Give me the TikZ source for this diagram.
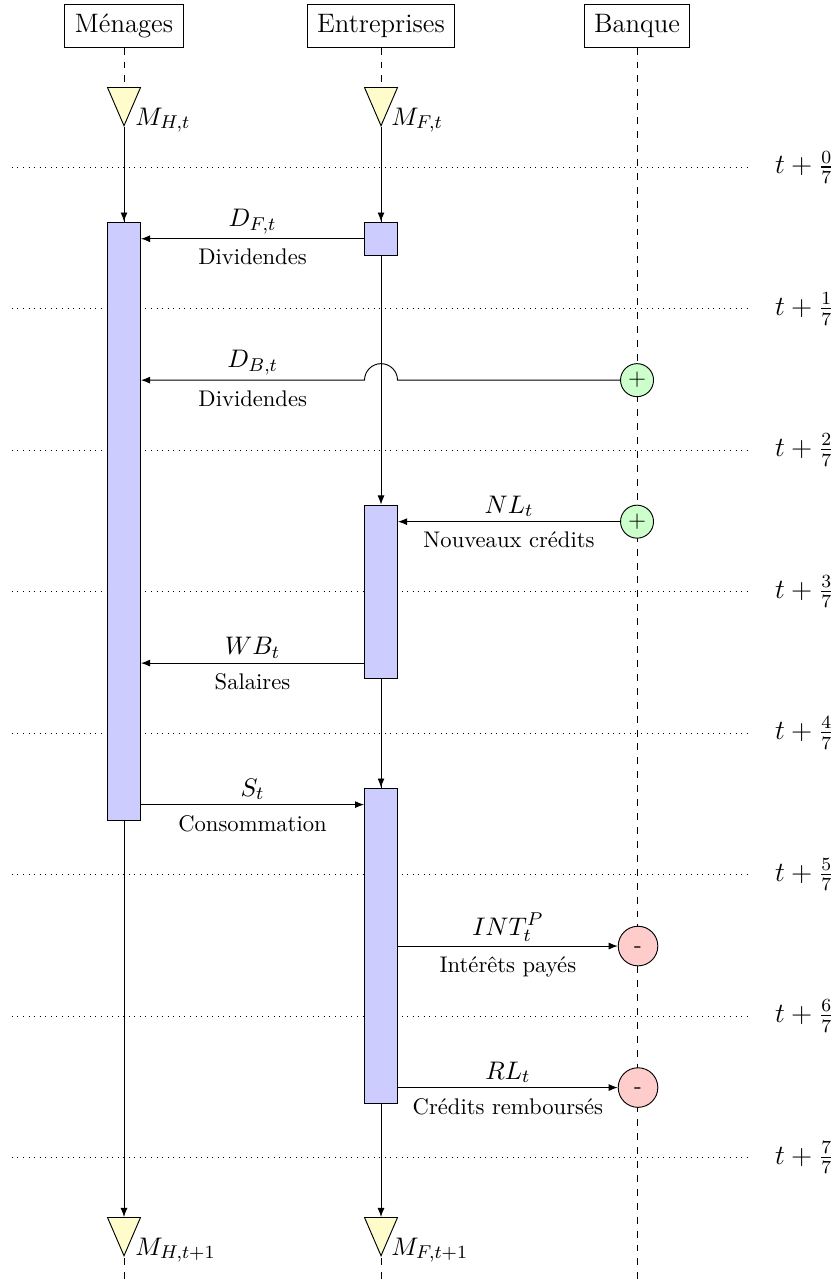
\documentclass[tikz,border=0pt]{standalone}
\usepackage{amsmath,amssymb}
\usetikzlibrary{arrows.meta,shapes.geometric}
\newcommand{\headfont}{\fontsize{11.5}{13.6}\selectfont}
\newcommand{\timefont}{\fontsize{11.7}{13.6}\selectfont}
\newcommand{\mathfont}{\fontsize{10.95}{13.6}\selectfont}
\newcommand{\capfont}{\fontsize{9.75}{12}\selectfont}
\tikzset{
	actor/.style={draw, font=\headfont, minimum height=0.64cm, minimum width=1.79cm},
	lifeline/.style={dashed},
	timeline/.style={dotted, shorten >=0.23cm},
	timelabel/.style={font=\timefont},
	block/.style={draw, fill=blue!20, minimum width=0.5cm, inner sep=0},
	stock/.style={draw, fill=yellow!20, isosceles triangle, isosceles triangle stretches, shape border rotate=-90, minimum width=0.5cm, minimum height=0.58cm, inner sep=0, anchor=apex},
	stocklabel/.style={font=\mathfont, anchor=base west, inner sep=0},
	plusnode/.style={draw, circle, fill=green!20, minimum size=0.5cm, inner sep=0},
	minusnode/.style={draw, circle, fill=red!20, minimum size=0.6cm, inner sep=0, text height=0.534em, text depth=0pt},
	flow/.style={-{Latex[length=3.9pt,width=3pt]}},
	amount/.style={above=-1.5pt, font=\mathfont},
	caption/.style={below=1pt, font=\capfont}
}

\begin{document}
\begin{tikzpicture}
	\useasboundingbox (0, 0) rectangle (12.682, -19.394);
	\node [actor] (A1) at (1.879, -0.394) {Ménages};
	\node [actor, minimum width=2.24cm] (A2) at (5.773, -0.394) {Entreprises};
	\node [actor, minimum width=1.59cm] (A3) at (9.652, -0.394) {Banque};
	\coordinate (E1) at (1.879, -19.394);
	\coordinate (E2) at (5.773, -19.394);
	\coordinate (E3) at (9.652, -19.394);
	\draw [lifeline] (A1) -- (E1);
	\draw [lifeline] (A2) -- (E2);
	\draw [lifeline] (A3) -- (E3);
	% time steps
	\node [timelabel] (T0) at (12.19, -2.535) {$t+\frac{0}{7}$};
	\node [timelabel] (T1) at (12.19, -4.678) {$t+\frac{1}{7}$};
	\node [timelabel] (T2) at (12.19, -6.822) {$t+\frac{2}{7}$};
	\node [timelabel] (T3) at (12.19, -8.965) {$t+\frac{3}{7}$};
	\node [timelabel] (T4) at (12.19, -11.109) {$t+\frac{4}{7}$};
	\node [timelabel] (T5) at (12.19, -13.252) {$t+\frac{5}{7}$};
	\node [timelabel] (T6) at (12.19, -15.396) {$t+\frac{6}{7}$};
	\node [timelabel] (T7) at (12.19, -17.539) {$t+\frac{7}{7}$};
	\coordinate (L0) at (0.18, -2.535);
	\coordinate (L1) at (0.18, -4.678);
	\coordinate (L2) at (0.18, -6.822);
	\coordinate (L3) at (0.18, -8.965);
	\coordinate (L4) at (0.18, -11.109);
	\coordinate (L5) at (0.18, -13.252);
	\coordinate (L6) at (0.18, -15.396);
	\coordinate (L7) at (0.18, -17.539);
	\draw [timeline] (L0) -- (T0);
	\draw [timeline] (L1) -- (T1);
	\draw [timeline] (L2) -- (T2);
	\draw [timeline] (L3) -- (T3);
	\draw [timeline] (L4) -- (T4);
	\draw [timeline] (L5) -- (T5);
	\draw [timeline] (L6) -- (T6);
	\draw [timeline] (L7) -- (T7);
	% stocks
	\node [stock] (S1) at (1.879, -1.924) {};
	\node [stock] (S2) at (5.773, -1.924) {};
	\node [stock] (S3) at (1.879, -19.045) {};
	\node [stock] (S4) at (5.773, -19.045) {};
	\node [stocklabel] (M1) at (2.045, -1.894) {$M_{H,t}$};
	\node [stocklabel] (M2) at (5.924, -1.894) {$M_{F,t}$};
	\node [stocklabel] (M3) at (2.045, -19.015) {$M_{H,t+1}$};
	\node [stocklabel] (M4) at (5.924, -19.015) {$M_{F,t+1}$};
	% blocks
	\node [block, minimum height=9.06cm] (B1) at (1.879, -7.894) {};
	\node [block, minimum height=0.5cm] (B2) at (5.773, -3.614) {};
	\node [block, minimum height=2.621cm] (B3) at (5.773, -8.962) {};
	\node [block, minimum height=4.773cm] (B4) at (5.773, -14.326) {};
	% bank
	\node [plusnode] (P1) at (9.652, -5.76) {+};
	\node [plusnode] (P2) at (9.652, -7.904) {+};
	\node [minusnode] (N1) at (9.667, -14.334) {-};
	\node [minusnode] (N2) at (9.667, -16.478) {-};
	\coordinate (W1) at (5.773, -3.617);
	\coordinate (W2) at (5.773, -10.047);
	\coordinate (W3) at (5.773, -12.191);
	\coordinate (J1) at (6.023, -5.76);
	\draw [flow] (S1.apex) -- (B1.north);
	\draw [flow] (S2.apex) -- (B2.north);
	\draw [flow] (B2) -- (B3);
	\draw [flow] (B3) -- (B4);
	\draw [flow] (B1) -- (S3.lower side);
	\draw [flow] (B4) -- (S4.lower side);
	\draw [flow] (W1 -| B2.west) -- node [amount] {$D_{F,t}$} node [caption] {Dividendes} (W1 -| B1.east);
	\draw [flow] (P1) -- (J1) arc (0:180:0.25) -- node [amount] {$D_{B,t}$} node [caption] {Dividendes} (P1 -| B1.east);
	\draw [flow] (P2) -- node [amount] {$NL_t$} node [caption] {Nouveaux crédits} (P2 -| B3.east);
	\draw [flow] (W2 -| B3.west) -- node [amount] {$WB_t$} node [caption] {Salaires} (W2 -| B1.east);
	\draw [flow] (W3 -| B1.east) -- node [amount] {$S_t$} node [caption] {Consommation} (W3 -| B4.west);
	\draw [flow] (N1 -| B4.east) -- node [amount] {$INT_t^P$} node [caption] {Intérêts payés} (N1);
	\draw [flow] (N2 -| B4.east) -- node [amount] {$RL_t$} node [caption] {Crédits remboursés} (N2);
\end{tikzpicture}
\end{document}
